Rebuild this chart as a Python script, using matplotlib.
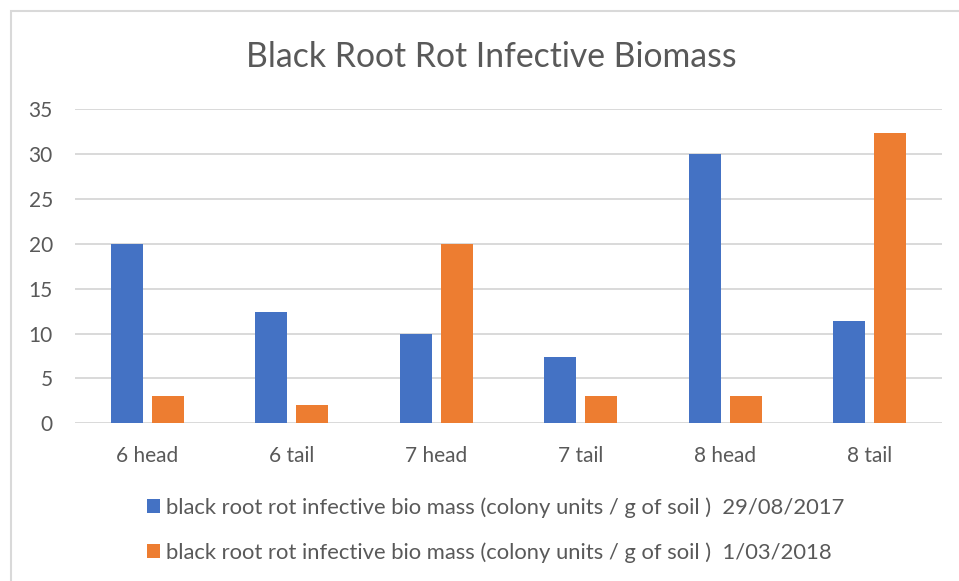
import numpy as np
import matplotlib
matplotlib.use("Agg")
import matplotlib.pyplot as plt
from matplotlib.patches import Rectangle

# data
categories = ["6 head", "6 tail", "7 head", "7 tail", "8 head", "8 tail"]
biomass_2017 = [20, 12.4, 10, 7.4, 30, 11.4]
biomass_2018 = [3, 2, 20, 3, 3, 32.4]
label_2017 = "black root rot infective bio mass (colony units / g of soil )  29/08/2017"
label_2018 = "black root rot infective bio mass (colony units / g of soil )  1/03/2018"
yticks = [0, 5, 10, 15, 20, 25, 30, 35]

blue = "#4472C4"
orange = "#ED7D31"
grey_txt = "#595959"
grid_col = "#D9D9D9"

plt.rcParams['font.family'] = ['Lato', 'DejaVu Sans']

W, H = 959, 581
fig = plt.figure(figsize=(W / 100, H / 100), dpi=100)

# plot area in pixel terms: x 75..942, y 109..423
ax = fig.add_axes([75 / W, (H - 423.3) / H, (942 - 75) / W, (423.3 - 109.3) / H])

x = np.arange(len(categories))
width = 0.22
off = 0.142
b1 = ax.bar(x - off, biomass_2017, width, color=blue, label=label_2017, zorder=3)
b2 = ax.bar(x + off, biomass_2018, width, color=orange, label=label_2018, zorder=3)

ax.set_xlim(-0.5, len(categories) - 0.5)
ax.set_ylim(0, 35)
ax.set_yticks(yticks)
ax.set_xticks(x)
ax.set_xticklabels(categories)
ax.yaxis.grid(True, color=grid_col, linewidth=1.4, zorder=0)
ax.set_axisbelow(True)
for s in ax.spines.values():
    s.set_visible(False)
ax.tick_params(axis="both", length=0, colors=grey_txt, labelsize=15)
ax.tick_params(axis="y", pad=16)
ax.tick_params(axis="x", pad=16)

fig.text(491 / W, 1 - 57 / H, "Black Root Rot Infective Biomass",
         ha="center", va="center", fontsize=24.3, color=grey_txt)

fig.legend(handles=[b1, b2], loc="center left",
           bbox_to_anchor=(136 / W, 1 - 530 / H), frameon=False, borderpad=0,
           fontsize=15.8, handlelength=0.6, handleheight=0.6,
           handletextpad=0.27, labelspacing=1.12, labelcolor=grey_txt)

# chart border (cropped at right and bottom like the screenshot)
fig.add_artist(Rectangle((11 / W, -0.05), 1.0, 1 - 11 / H + 0.05,
                         transform=fig.transFigure, fill=False,
                         edgecolor=grid_col, linewidth=1.5))

fig.savefig("out.png", dpi=100)
